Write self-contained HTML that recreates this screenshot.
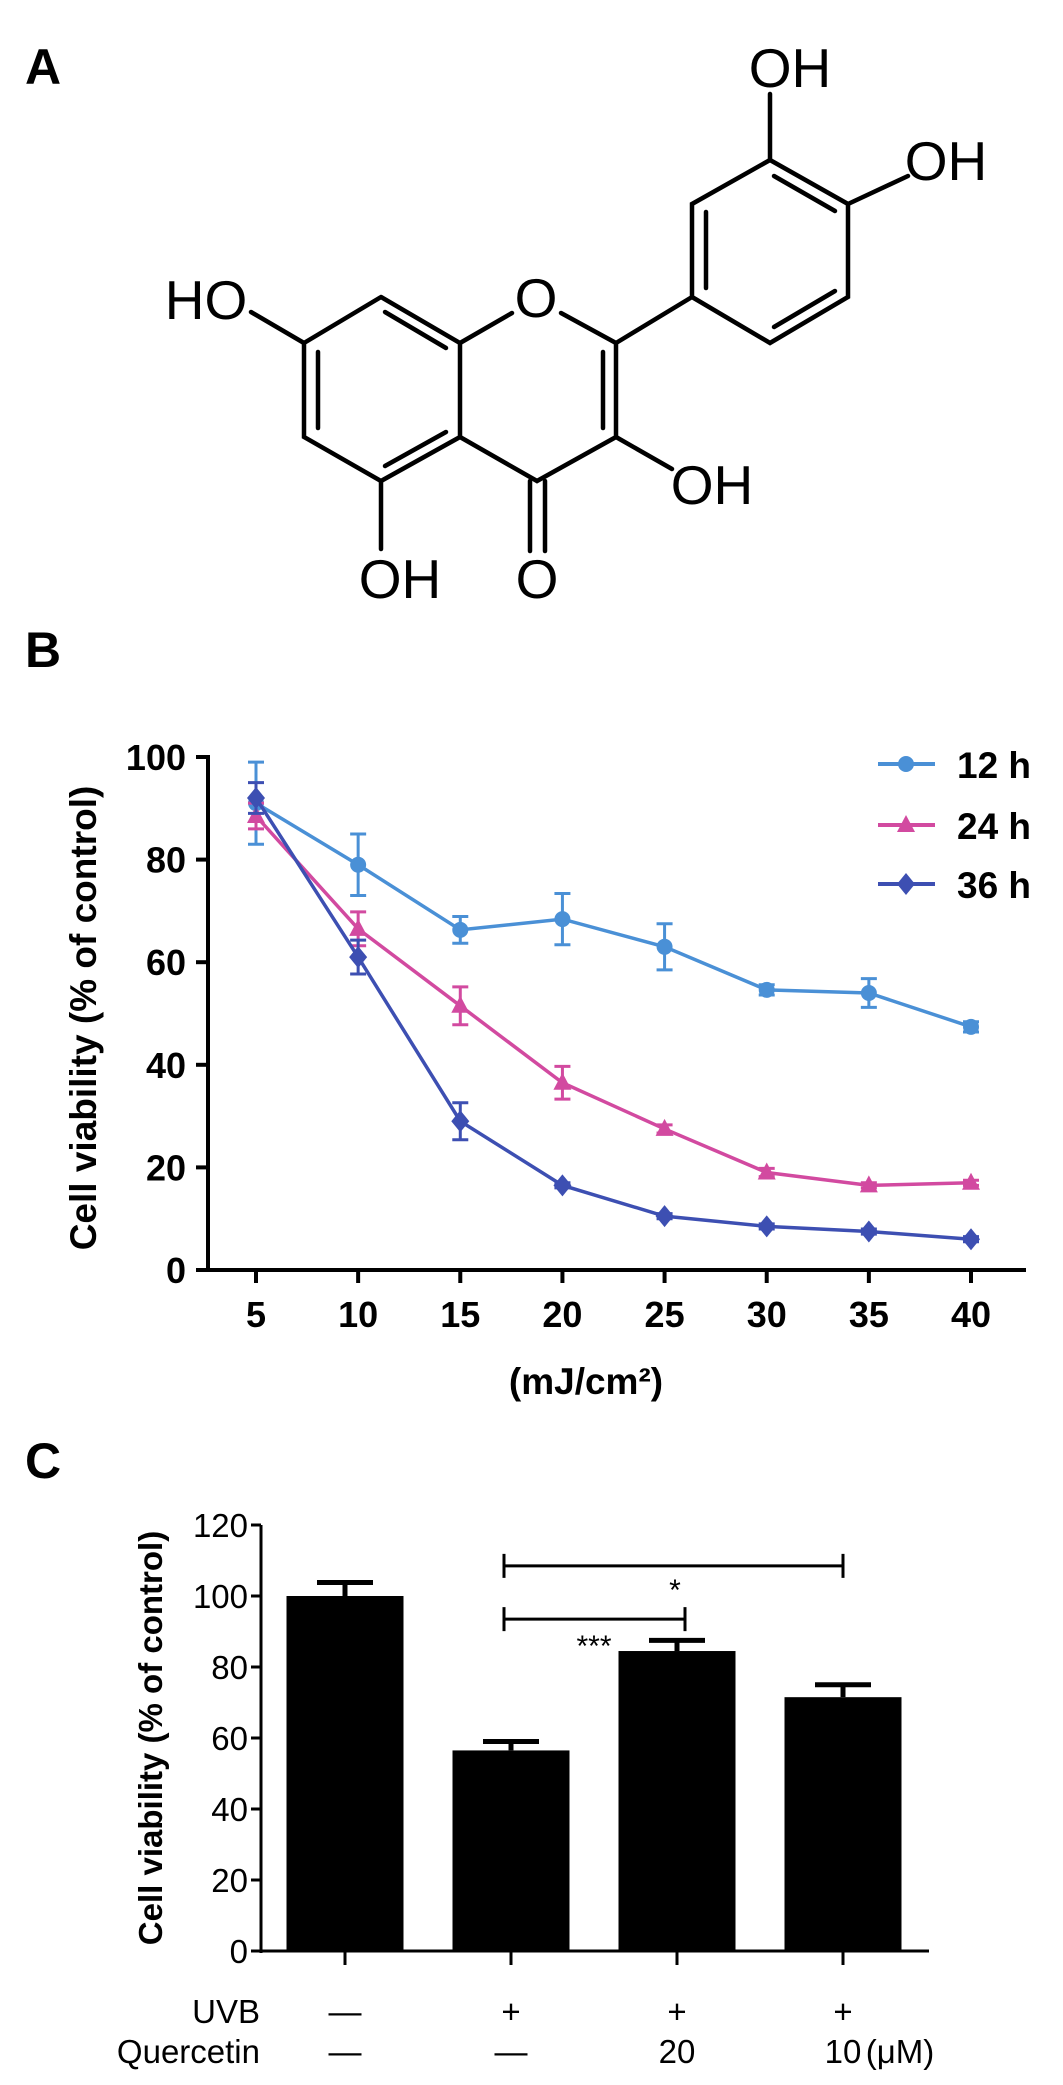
<!DOCTYPE html>
<html><head><meta charset="utf-8"><style>
html,body{margin:0;padding:0;background:#fff;}
svg{display:block;}
text{font-family:"Liberation Sans",sans-serif;}
.narrow{font-family:"Liberation Sans Narrow","Liberation Sans",sans-serif;}
</style></head><body>
<svg id="fig" width="1063" height="2085" viewBox="0 0 1063 2085" xmlns="http://www.w3.org/2000/svg">
<!-- Panel A -->
<text x="25" y="84" font-size="50" font-weight="bold">A</text>
<g stroke="#000" stroke-width="4.5" fill="none" stroke-linecap="round">
  <polyline points="381,297 304,343 304,437 381,481 460,437 460,343 381,297"/>
  <line x1="318" y1="352" x2="318" y2="428"/>
  <line x1="385" y1="312" x2="446" y2="348"/>
  <line x1="385" y1="466" x2="446" y2="432"/>
  <line x1="460" y1="343" x2="512" y2="313"/>
  <line x1="561" y1="313" x2="616" y2="343"/>
  <polyline points="616,343 616,437 537,481 460,437"/>
  <line x1="603" y1="352" x2="603" y2="428"/>
  <line x1="530" y1="481" x2="530" y2="551"/>
  <line x1="545" y1="481" x2="545" y2="551"/>
  <line x1="616" y1="437" x2="672" y2="469"/>
  <line x1="381" y1="481" x2="381" y2="549"/>
  <line x1="304" y1="343" x2="251" y2="312"/>
  <line x1="616" y1="343" x2="692" y2="297"/>
  <polyline points="692,297 692,204 770,160 848,204 848,297 770,343 692,297"/>
  <line x1="706" y1="212" x2="706" y2="288"/>
  <line x1="774" y1="176" x2="835" y2="211"/>
  <line x1="774" y1="327" x2="835" y2="291"/>
  <line x1="770" y1="160" x2="770" y2="94"/>
  <line x1="848" y1="204" x2="908" y2="176"/>
</g>
<g font-size="55">
  <text x="536" y="317" text-anchor="middle">O</text>
  <text x="537" y="598" text-anchor="middle">O</text>
  <text x="712" y="504" text-anchor="middle">OH</text>
  <text x="400" y="598" text-anchor="middle">OH</text>
  <text x="206" y="319" text-anchor="middle">HO</text>
  <text x="790" y="87" text-anchor="middle">OH</text>
  <text x="946" y="180" text-anchor="middle">OH</text>
</g>
<!-- Panel B -->
<text x="25" y="667" font-size="50" font-weight="bold">B</text>
<g id="chartB"></g>
<!-- Panel C -->
<text x="25" y="1478" font-size="50" font-weight="bold">C</text>
<g id="chartC"></g>
</svg>
<script>
// ---- Panel B data ----
const doses = [5, 10, 15, 20, 25, 30, 35, 40];
const yTicksB = [0, 20, 40, 60, 80, 100];
const seriesNames = ["12 h", "24 h", "36 h"];
const v12 = [91, 79, 66.3, 68.4, 63, 54.6, 54, 47.4];
const e12 = [8, 6, 2.6, 5, 4.5, 1, 2.8, 1];
const v24 = [88.5, 66.5, 51.5, 36.5, 27.5, 19, 16.5, 17];
const e24 = [2.5, 3.3, 3.7, 3.2, 0.8, 0.8, 0.5, 0.5];
const v36 = [92, 61, 29, 16.5, 10.5, 8.5, 7.5, 6];
const e36 = [3, 3.3, 3.6, 0.5, 0.5, 0.5, 0.5, 0.5];
// ---- Panel C data ----
const groups = ["ctrl", "uvb", "uvb-q20", "uvb-q10"];
const barVals = [100, 56.5, 84.5, 71.5];
const barErr = [3.8, 2.5, 3, 3.5];
const yTicksC = [0, 20, 40, 60, 80, 100, 120];
const uvbRow = ["—", "+", "+", "+"];
const querRow = ["—", "—", "20", "10"];

const NS = "http://www.w3.org/2000/svg";
function mk(parent, tag, attrs, txt) {
  const el = document.createElementNS(NS, tag);
  for (const k in attrs) el.setAttribute(k, attrs[k]);
  if (txt !== undefined) el.textContent = txt;
  parent.appendChild(el);
  return el;
}

// ---- Chart B ----
(function () {
  const g = document.getElementById("chartB");
  const x0 = 208, yBase = 1270, yTop = 757;
  const xB = d => 256 + (d - 5) * (971 - 256) / 35;
  const yB = v => yBase - v * (yBase - yTop) / 100;
  let el;
  el = mk(g, "line", {x1: x0, y1: yTop - 2, x2: x0, y2: yBase + 2, stroke: "#000", "stroke-width": 4});
  
  
  el = mk(g, "line", {x1: x0 - 2, y1: yBase, x2: 1026, y2: yBase, stroke: "#000", "stroke-width": 4});
  
  
  yTicksB.forEach(t => {
    mk(g, "line", {x1: x0 - 12, y1: yB(t), x2: x0, y2: yB(t), stroke: "#000", "stroke-width": 4});
    el = mk(g, "text", {x: 186, y: yB(t) + 13, "font-size": 36, "font-weight": "bold", "text-anchor": "end"}, t);
    
    
  });
  doses.forEach(d => {
    mk(g, "line", {x1: xB(d), y1: yBase, x2: xB(d), y2: yBase + 13, stroke: "#000", "stroke-width": 4});
    el = mk(g, "text", {x: xB(d), y: yBase + 57, "font-size": 36, "font-weight": "bold", "text-anchor": "middle"}, d);
    
    
  });
  el = mk(g, "text", {x: 586, y: 1394, "font-size": 37, "font-weight": "bold", "text-anchor": "middle"}, "(mJ/cm²)");
  
  
  el = mk(g, "text", {x: 0, y: 0, "font-size": 37, "font-weight": "bold", "text-anchor": "middle", transform: "translate(96,1018) rotate(-90)"}, "Cell viability (% of control)");
  
  

  const colors = ["#4a90d6", "#d24aa0", "#3d4fb2"];
  const vals = [v12, v24, v36], errs = [e12, e24, e36];
  function marker(parent, k, cx, cy) {
    let m;
    if (k === 0) m = mk(parent, "circle", {cx: cx, cy: cy, r: 8, fill: colors[0]});
    else if (k === 1) m = mk(parent, "polygon", {points: `${cx},${cy-10} ${cx+9},${cy+7} ${cx-9},${cy+7}`, fill: colors[1]});
    else m = mk(parent, "polygon", {points: `${cx},${cy-11} ${cx+9},${cy} ${cx},${cy+11} ${cx-9},${cy}`, fill: colors[2]});
    return m;
  }
  vals.forEach((vs, k) => {
    const sg = mk(g, "g", {});
    
    
    const pts = vs.map((v, i) => xB(doses[i]) + "," + yB(v)).join(" ");
    el = mk(sg, "polyline", {points: pts, fill: "none", stroke: colors[k], "stroke-width": 3.5});
    
    
    vs.forEach((v, i) => {
      const cx = xB(doses[i]), e = errs[k][i];
      const eb = mk(sg, "path", {d: `M${cx},${yB(v+e)}V${yB(v-e)}M${cx-8},${yB(v+e)}H${cx+8}M${cx-8},${yB(v-e)}H${cx+8}`, stroke: colors[k], "stroke-width": 3, fill: "none"});
      
      
      const m = marker(sg, k, cx, yB(v));
      
      
    });
  });
  const ly = [764, 825, 884];
  seriesNames.forEach((n, k) => {
    const lg = mk(g, "g", {});
    
    
    mk(lg, "line", {x1: 878, y1: ly[k], x2: 935, y2: ly[k], stroke: colors[k], "stroke-width": 4});
    marker(lg, k, 906, ly[k]);
    mk(lg, "text", {x: 957, y: ly[k] + 14, "font-size": 37, "font-weight": "bold"}, n);
  });
})();

// ---- Chart C ----
(function () {
  const g = document.getElementById("chartC");
  const x0 = 261, yBase = 1951, yTop = 1525;
  const yC = v => yBase - v * (yBase - yTop) / 120;
  const centers = i => 345 + i * 166;
  const bw = 117;
  let el;
  el = mk(g, "line", {x1: x0, y1: yTop, x2: x0, y2: yBase + 2, stroke: "#000", "stroke-width": 3});
  
  
  el = mk(g, "line", {x1: x0, y1: yBase, x2: 929, y2: yBase, stroke: "#000", "stroke-width": 3});
  
  
  yTicksC.forEach(t => {
    mk(g, "line", {x1: x0 - 10, y1: yC(t), x2: x0, y2: yC(t), stroke: "#000", "stroke-width": 3});
    el = mk(g, "text", {x: 248, y: yC(t) + 12, "font-size": 33, "text-anchor": "end", class: "narrow"}, t);
    
    
  });
  el = mk(g, "text", {x: 0, y: 0, "font-size": 33, "font-weight": "bold", "text-anchor": "middle", class: "narrow", transform: "translate(162,1738) rotate(-90)"}, "Cell viability (% of control)");
  
  
  barVals.forEach((v, i) => {
    const cx = centers(i);
    el = mk(g, "rect", {x: cx - bw / 2, y: yC(v), width: bw, height: yBase - yC(v), fill: "#000"});
    
    
    el = mk(g, "path", {d: `M${cx},${yC(v)}V${yC(v+barErr[i])}M${cx-28},${yC(v+barErr[i])}H${cx+28}`, stroke: "#000", "stroke-width": 5, fill: "none"});
    
    
    mk(g, "line", {x1: cx, y1: yBase, x2: cx, y2: yBase + 14, stroke: "#000", "stroke-width": 3});
    el = mk(g, "text", {x: cx, y: 2023, "font-size": 33, "text-anchor": "middle", class: "narrow"}, uvbRow[i]);
    
    
    el = mk(g, "text", {x: cx, y: 2063, "font-size": 33, "text-anchor": "middle", class: "narrow"}, querRow[i]);
    
    
  });
  el = mk(g, "text", {x: 900, y: 2063, "font-size": 33, "text-anchor": "middle", class: "narrow"}, "(μM)");
  
  
  el = mk(g, "text", {x: 260, y: 2023, "font-size": 33, "text-anchor": "end", class: "narrow"}, "UVB");
  
  
  el = mk(g, "text", {x: 260, y: 2063, "font-size": 33, "text-anchor": "end", class: "narrow"}, "Quercetin");
  
  
  // significance brackets
  const b1y = yC(108.5), b2y = yC(93.5);
  el = mk(g, "path", {d: `M${centers(1)-7},${b1y-12}V${b1y+12}M${centers(1)-7},${b1y}H${centers(3)}M${centers(3)},${b1y-12}V${b1y+12}`, stroke: "#000", "stroke-width": 3, fill: "none"});
  
  
  el = mk(g, "text", {x: 675, y: 1600, "font-size": 30, "text-anchor": "middle"}, "*");
  
  
  el = mk(g, "path", {d: `M${centers(1)-7},${b2y-12}V${b2y+12}M${centers(1)-7},${b2y}H${centers(2)+8}M${centers(2)+8},${b2y-12}V${b2y+12}`, stroke: "#000", "stroke-width": 3, fill: "none"});
  
  
  el = mk(g, "text", {x: 594, y: 1656, "font-size": 30, "text-anchor": "middle"}, "***");
  
  
})();
</script>
</body></html>
